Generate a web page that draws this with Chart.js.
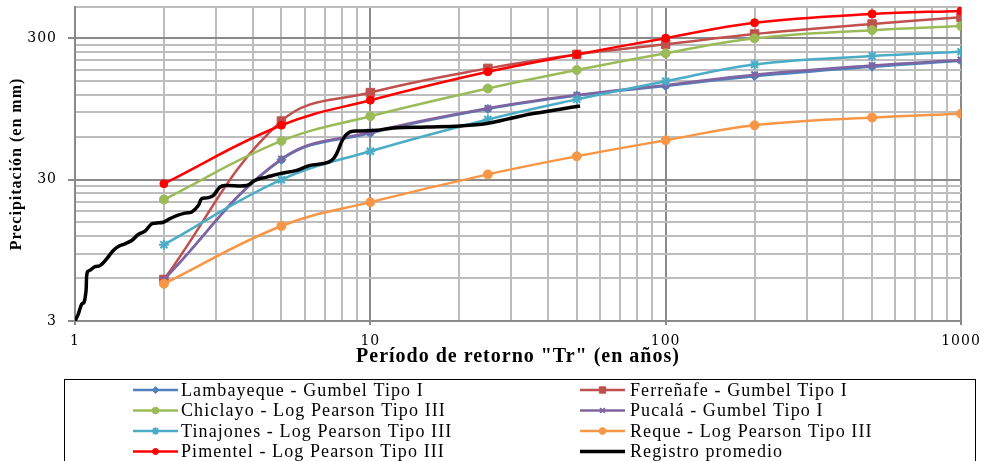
<!DOCTYPE html>
<html>
<head>
<meta charset="utf-8">
<script src="https://cdn.jsdelivr.net/npm/chart.js@4/dist/chart.umd.min.js"></script>
<style>
  html, body { margin: 0; padding: 0; background: #ffffff; }
  #c { display: block; }
</style>
</head>
<body>
<canvas id="c" width="985" height="461"></canvas>
<script>
// Return periods (years) used by every fitted distribution
const returnPeriods = [2, 5, 10, 25, 50, 100, 200, 500, 1000];

// Maximum precipitation (mm) per station and fitted distribution
const lambayeque = [5.9, 41.5, 64, 95, 118, 138, 162, 189, 208];
const ferrenafe  = [5.9, 78, 124, 184, 231, 272, 322, 379, 423];
const chiclayo   = [21.7, 56.4, 84.4, 132.5, 179, 235, 300, 343, 367];
const pucala     = [5.9, 42, 65, 96, 119, 140, 166, 193, 211];
const tinajones  = [10.4, 30, 47.7, 80, 111, 149, 196, 225, 241];
const reque      = [5.5, 14.1, 20.8, 32.7, 43.9, 57, 72.8, 82.6, 88];
const pimentel   = [28.1, 72.8, 109.5, 174, 231, 301, 387, 446, 469];

// Averaged observed record (plotting position vs precipitation)
const registroT = [1, 1.026, 1.054, 1.073, 1.09, 1.10, 1.13, 1.169, 1.215, 1.28, 1.348, 1.401,
  1.476, 1.556, 1.638, 1.726, 1.818, 1.891, 1.991, 2.097, 2.21, 2.358, 2.485, 2.615, 2.686,
  2.828, 2.94, 3.097, 3.22, 3.815, 4.07, 4.46, 4.945, 5.63, 6.25, 6.93, 7.40, 7.69, 8.10,
  8.54, 9.23, 10.5, 11.96, 15.52, 20.1, 24.8, 29.7, 35.6, 43.9, 51.3];
const registroP = [3.0, 3.36, 3.96, 4.06, 4.92, 6.64, 6.9, 7.28, 7.4, 8.26, 9.46, 10.1,
  10.55, 11.13, 12.27, 12.96, 14.6, 14.8, 15.0, 15.9, 16.7, 17.4, 17.7, 19.7, 22.0,
  22.4, 23.2, 26.6, 27.3, 27.3, 29.7, 31.3, 33.1, 34.9, 37.9, 39.0, 41.1, 45.9, 58.6,
  65.3, 66.4, 67.1, 69.7, 70.8, 72.0, 74.9, 81.3, 88.1, 94.5, 99.8];

// Axis tick labels
const xTickLabels = [1, 10, 100, 1000];
const yTickLabels = [3, 30, 300];
const yMin = 3, yMax = 500;

// Gridline positions: every unit of each decade
function decadeLines(start, end, step0) {
  const out = [];
  let step = step0;
  let v = start;
  while (v <= end + 1e-9) {
    out.push(+v.toPrecision(6));
    const next = v + step;
    if (+next.toPrecision(6) >= step * 10 - 1e-9) step *= 10;
    v = next;
  }
  return out;
}
const xGrid = decadeLines(1, 1000, 1);
const yGrid = decadeLines(3, 300, 3).concat([yMax]);

const pairs = (xs, ys) => xs.map((x, i) => ({ x: x, y: ys[i] }));

const series = [
  { label: 'Lambayeque - Gumbel Tipo I',     data: pairs(returnPeriods, lambayeque), color: '#4F81BD', style: 'rectRot',  r: 4.5, bw: 1 },
  { label: 'Ferreñafe - Gumbel Tipo I',      data: pairs(returnPeriods, ferrenafe),  color: '#C0504D', style: 'rect',     r: 6,   bw: 1 },
  { label: 'Chiclayo - Log Pearson Tipo III', data: pairs(returnPeriods, chiclayo),  color: '#9BBB59', style: 'circle',   r: 4.5, bw: 1 },
  { label: 'Pucalá - Gumbel Tipo I',         data: pairs(returnPeriods, pucala),     color: '#8064A2', style: 'crossRot', r: 4.5, bw: 2 },
  { label: 'Tinajones - Log Pearson Tipo III', data: pairs(returnPeriods, tinajones), color: '#4BACC6', style: 'star',   r: 5,   bw: 2 },
  { label: 'Reque - Log Pearson Tipo III',   data: pairs(returnPeriods, reque),      color: '#F79646', style: 'circle',   r: 4.5, bw: 1 },
  { label: 'Pimentel - Log Pearson Tipo III', data: pairs(returnPeriods, pimentel),  color: '#FF0000', style: 'circle',   r: 4,   bw: 1 },
  { label: 'Registro promedio',              data: pairs(registroT, registroP),      color: '#000000', style: false,      r: 0,   bw: 0 }
];

const datasets = series.map((s, i) => ({
  label: s.label,
  data: s.data,
  borderColor: s.color,
  backgroundColor: s.color,
  borderWidth: s.style ? 2.5 : 3.5,
  pointStyle: s.style,
  pointRadius: s.r,
  pointHoverRadius: s.r,
  pointBorderWidth: s.bw,
  pointBackgroundColor: s.color,
  pointBorderColor: s.color,
  tension: 0.4,
  fill: false,
  order: series.length - i
}));

// Slight tracking on all canvas text
const textSpacing = {
  id: 'textSpacing',
  beforeDraw(chart) { chart.ctx.letterSpacing = '1px'; }
};

// Two-column boxed legend below the plot
const boxedLegend = {
  id: 'boxedLegend',
  afterDraw(chart) {
    const ctx = chart.ctx;
    const area = chart.chartArea;
    const boxLeft = area.left - 11, boxTop = area.bottom + 58;
    const boxRight = chart.width - 10, boxBottom = chart.height + 10;
    const lineX = [area.left + 58, area.left + 505];
    const textX = [area.left + 106, area.left + 555];
    const lineLen = 45;
    const rowY0 = boxTop + 11, rowGap = 20.5;
    ctx.save();
    ctx.letterSpacing = '1.1px';
    ctx.strokeStyle = '#000000';
    ctx.lineWidth = 1;
    ctx.strokeRect(boxLeft + 0.5, boxTop + 0.5, boxRight - boxLeft, boxBottom - boxTop);
    chart.data.datasets.forEach((ds, i) => {
      const col = i % 2, row = Math.floor(i / 2);
      const x = lineX[col], y = rowY0 + row * rowGap;
      ctx.strokeStyle = ds.borderColor;
      ctx.lineWidth = ds.borderWidth;
      ctx.beginPath();
      ctx.moveTo(x, y);
      ctx.lineTo(x + lineLen, y);
      ctx.stroke();
      if (ds.pointStyle && ds.pointRadius > 0) {
        ctx.fillStyle = ds.pointBackgroundColor;
        ctx.strokeStyle = ds.pointBorderColor;
        ctx.lineWidth = ds.pointBorderWidth;
        Chart.helpers.drawPoint(ctx, {
          pointStyle: ds.pointStyle,
          radius: ds.pointRadius * 0.75,
          borderWidth: ds.pointBorderWidth,
          rotation: 0
        }, x + lineLen / 2, y);
      }
      ctx.fillStyle = '#000000';
      ctx.font = '18px "Liberation Serif", "Times New Roman", serif';
      ctx.textAlign = 'left';
      ctx.textBaseline = 'middle';
      ctx.fillText(ds.label, textX[col], y + 1);
    });
    ctx.restore();
  }
};

const majorGrid = '#8a8a8a';
const minorGrid = '#bdbdbd';

new Chart(document.getElementById('c'), {
  type: 'line',
  data: { datasets: datasets },
  plugins: [textSpacing, boxedLegend],
  options: {
    responsive: false,
    animation: false,
    events: [],
    layout: { padding: { left: 0, right: 24, top: 7, bottom: 90 } },
    plugins: {
      legend: { display: false },
      tooltip: { enabled: false }
    },
    scales: {
      x: {
        type: 'logarithmic',
        min: 1,
        max: 1000,
        afterBuildTicks(scale) {
          scale.ticks = xGrid.map(v => ({ value: v, major: xTickLabels.includes(v) }));
        },
        afterFit(scale) {
          scale.height = 50;
          scale.paddingLeft = 0;
          scale.paddingRight = 0;
        },
        ticks: {
          autoSkip: false,
          maxRotation: 0,
          padding: 8,
          color: '#000000',
          font: { family: '"DejaVu Serif", serif', size: 14 },
          callback: (v) => xTickLabels.includes(v) ? String(v) : ''
        },
        grid: {
          lineWidth: 2,
          tickLength: 4,
          color: (c) => (c.tick && xTickLabels.includes(c.tick.value) && c.tick.value !== 1) ? majorGrid : minorGrid,
          tickColor: (c) => (c.tick && xTickLabels.includes(c.tick.value)) ? majorGrid : 'rgba(0,0,0,0)'
        },
        border: { display: true, color: majorGrid, width: 2 },
        title: {
          display: true,
          text: 'Período de retorno "Tr" (en años)',
          color: '#000000',
          font: { family: '"Liberation Serif", serif', size: 20, weight: 'bold' },
          padding: { top: 0, bottom: 2 }
        }
      },
      y: {
        type: 'logarithmic',
        min: yMin,
        max: yMax,
        afterBuildTicks(scale) {
          scale.ticks = yGrid.map(v => ({ value: v, major: yTickLabels.includes(v) }));
        },
        afterFit(scale) {
          scale.width = 75;
          scale.paddingTop = 0;
          scale.paddingBottom = 0;
        },
        ticks: {
          autoSkip: false,
          padding: 11,
          color: '#000000',
          font: { family: '"DejaVu Serif", serif', size: 14 },
          callback: (v) => yTickLabels.includes(v) ? String(v) : ''
        },
        grid: {
          lineWidth: 2,
          tickLength: 7,
          color: (c) => (c.tick && yTickLabels.includes(c.tick.value)) ? majorGrid : minorGrid,
          tickColor: (c) => (c.tick && yTickLabels.includes(c.tick.value)) ? majorGrid : 'rgba(0,0,0,0)'
        },
        border: { display: true, color: majorGrid, width: 2 },
        title: {
          display: true,
          text: 'Precipitación (en mm)',
          color: '#000000',
          font: { family: '"Liberation Serif", serif', size: 16, weight: 'bold' },
          padding: { top: 7, bottom: 0 }
        }
      }
    }
  }
});
</script>
</body>
</html>
